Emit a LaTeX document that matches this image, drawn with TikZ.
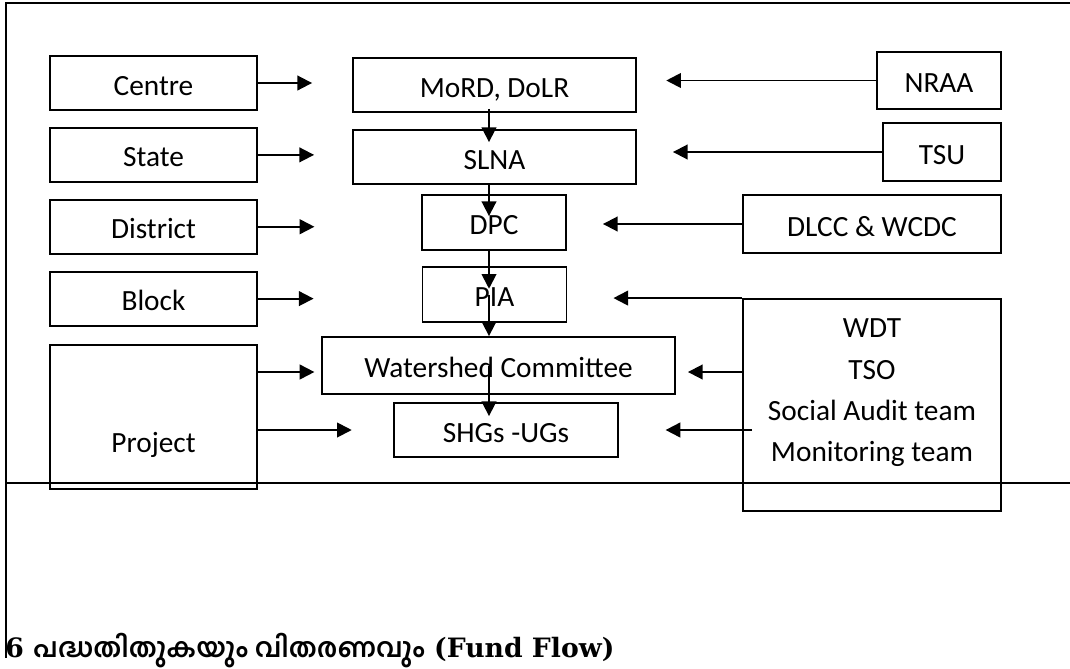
\documentclass[tikz,border=0pt]{standalone}
\usepackage{fontspec}
\setmainfont{Carlito}
\newfontfamily\headfont{DejaVu Serif}
\newfontfamily\malfont[Script=Malayalam]{Hind Kochi}
\usetikzlibrary{arrows.meta,positioning}

\begin{document}
\begin{tikzpicture}[x=0.75pt,y=-0.75pt,
  box/.style={draw,line width=1.4pt,inner sep=0pt,font=\fontsize{22}{31}\selectfont},
  onebox/.style={box,text height=18pt,text depth=0pt},
  level/.style={onebox,minimum width=155.25pt,minimum height=40.5pt},
  flow/.style={line width=1.4pt,-{Triangle[length=11pt,width=11pt]}},
  frame/.style={line width=1pt}]
  \useasboundingbox (0,0) rectangle (1070,668);
  \draw[frame] (1070,3) -- (6,3) -- (6,658);
  \draw[frame] (6,483) -- (1070,483);

  \node[level] (centre) at (153.5,83) {Centre};
  \node[level,below=12pt of centre] (state) {State};
  \node[level,below=12pt of state] (district) {District};
  \node[level,below=12pt of district] (block) {Block};
  \node[level,minimum height=108pt,text height=57pt,text depth=4pt,below=13pt of block] (project) {Project};

  \node[onebox,minimum width=212.25pt,minimum height=40.5pt] (mord) at (494.5,85) {MoRD, DoLR};
  \node[onebox,minimum width=212.25pt,minimum height=40.5pt] (slna) at (494.5,157) {SLNA};
  \node[onebox,minimum width=108pt,minimum height=41.25pt] (dpc) at (494,222.5) {DPC};
  \node[onebox,minimum width=108pt,minimum height=41.25pt] (pia) at (494.5,294.5) {PIA};
  \node[onebox,minimum width=264.75pt,minimum height=42.75pt] (wc) at (498.5,365.5) {Watershed Committee};
  \node[onebox,minimum width=168pt,minimum height=40.5pt] (shg) at (506,430) {SHGs -UGs};

  \node[onebox,minimum width=93pt,minimum height=42.75pt] (nraa) at (939,80.5) {NRAA};
  \node[onebox,minimum width=88.5pt,minimum height=43.5pt] (tsu) at (942,152) {TSU};
  \node[onebox,minimum width=193.5pt,minimum height=43.5pt] (dlcc) at (872,224) {DLCC \& WCDC};
  \node[box,minimum width=193.5pt,minimum height=159pt,align=center,text depth=22pt] (wdt) at (872,405)
    {WDT\\TSO\\Social Audit team\\Monitoring team};

  \coordinate (spine) at (489,0);
  \coordinate (wclevel) at (0,372);

  \draw[flow,shorten >=30pt] (centre.east) -- (centre.east -| mord.west);
  \draw[flow,shorten >=28.5pt] (state.east) -- (state.east -| slna.west);
  \draw[flow,shorten >=80pt] (district.east) -- (district.east -| dpc.west);
  \draw[flow,shorten >=81pt] (block.east) -- (block.east -| pia.west);
  \draw[flow,shorten >=5pt] (project.east |- wclevel) -- (wc.west |- wclevel);
  \draw[flow,shorten >=31pt] (project.east |- shg.west) -- (shg.west);

  \draw[flow,shorten >=22pt] (nraa.west) -- (nraa.west -| mord.east);
  \draw[flow,shorten >=27pt] (tsu.west) -- (tsu.west -| slna.east);
  \draw[flow,shorten >=27pt] (dlcc.west) -- (dlcc.west -| dpc.east);
  \draw[flow,shorten >=34.5pt] (wdt.north west) -- (wdt.north west -| pia.east);
  \draw[flow,shorten >=9pt] (wdt.west |- wclevel) -- (wc.east |- wclevel);
  \draw[flow,shorten <=-7.5pt,shorten >=35pt] (wdt.west |- shg.east) -- (shg.east);

  \draw[flow,shorten <=-3pt,shorten >=-9.75pt] (mord.south -| spine) -- (slna.north -| spine);
  \draw[flow,shorten >=-16.5pt] (slna.south -| spine) -- (dpc.north -| spine);
  \draw[flow,shorten >=-17pt] (dpc.south -| spine) -- (pia.north -| spine);
  \draw[flow] (pia.center -| spine) -- (wc.north -| spine);
  \draw[flow,shorten >=-10.5pt] (wc.center -| spine) -- (shg.north -| spine);

  \node[anchor=base west,inner sep=0pt,text depth=2pt,font=\fontsize{20}{24}\selectfont] (title) at (5,657)
    {\headfont\bfseries 6 {\malfont\bfseries പദ്ധതിതുകയും വിതരണവും} (Fund Flow)};
\end{tikzpicture}
\end{document}
